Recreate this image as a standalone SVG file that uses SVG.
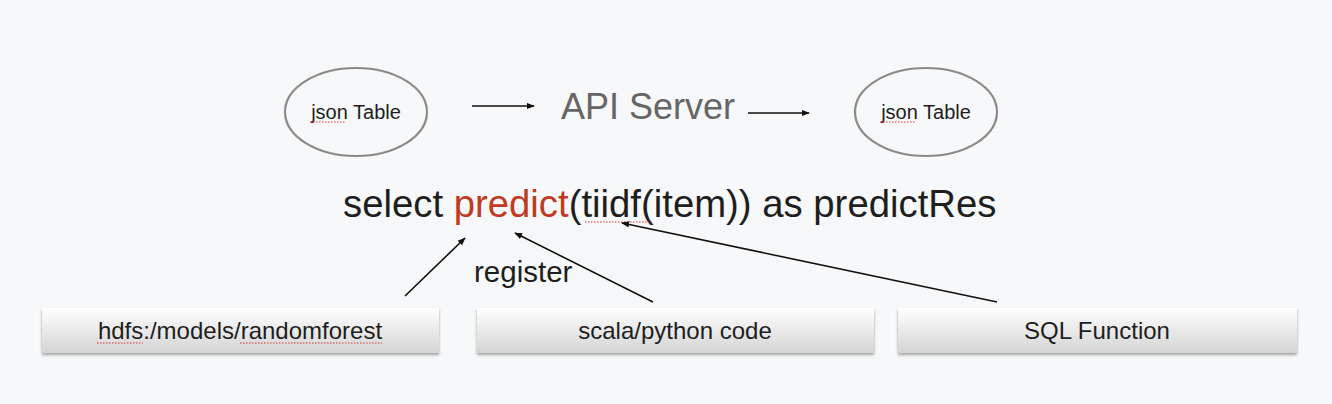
<svg xmlns="http://www.w3.org/2000/svg" width="1332" height="404" viewBox="0 0 1332 404">
<defs>
<linearGradient id="boxg" x1="0" y1="0" x2="0" y2="1">
<stop offset="0" stop-color="#ffffff"/>
<stop offset="1" stop-color="#d4d4d4"/>
</linearGradient>
<filter id="sh" x="-5%" y="-30%" width="110%" height="170%">
<feDropShadow dx="0" dy="2" stdDeviation="1.5" flood-color="#000" flood-opacity="0.35"/>
</filter>
<marker id="ah" viewBox="0 0 10 10" refX="9" refY="5" markerWidth="8" markerHeight="8" orient="auto" markerUnits="userSpaceOnUse">
<path d="M0,1 L10,5 L0,9 z" fill="#111"/>
</marker>
</defs>
<style>
.t{font-family:"Liberation Sans",Arial,sans-serif;fill:#1e1e1e}
.ell{fill:none;stroke:#8a8a8a;stroke-width:2.2}
.box{fill:url(#boxg);filter:url(#sh)}
.con{stroke:#111;stroke-width:1.6;fill:none;marker-end:url(#ah)}
.sq{stroke:#d33;stroke-width:1.2;stroke-dasharray:1.5 1.5;fill:none}
</style>
<rect width="1332" height="404" fill="#f7f8f9"/>
<g id="json-in">
<ellipse class="ell" cx="356" cy="112" rx="71" ry="44"/>
<text class="t" x="356" y="119" font-size="20" text-anchor="middle">json Table</text>
<path class="sq" d="M310,122 H346"/>
</g>
<g id="api-server">
<text x="648" y="119" font-size="36" text-anchor="middle" style="font-family:'Liberation Sans',Arial,sans-serif;fill:#666">API Server</text>
</g>
<g id="json-out">
<ellipse class="ell" cx="926" cy="112" rx="71" ry="44"/>
<text class="t" x="926" y="119" font-size="20" text-anchor="middle">json Table</text>
<path class="sq" d="M880,122 H916"/>
</g>
<g id="query">
<text class="t" x="343" y="217" font-size="38.3">select <tspan fill="#c23a22">predict</tspan>(tiidf(item)) as predictRes</text>
<path class="sq" d="M585,222 H652"/>
</g>
<g id="register-label">
<text class="t" x="474" y="282" font-size="29.5">register</text>
</g>
<g id="hdfs">
<rect class="box" x="42" y="308" width="397" height="45"/>
<text class="t" x="240" y="339" font-size="24" text-anchor="middle">hdfs:/models/randomforest</text>
<path class="sq" d="M97,343 H143 M240,343 H382"/>
</g>
<g id="code">
<rect class="box" x="477" y="308" width="397" height="45"/>
<text class="t" x="675" y="339" font-size="24" text-anchor="middle">scala/python code</text>
</g>
<g id="sqlfunc">
<rect class="box" x="898" y="308" width="399" height="45"/>
<text class="t" x="1097" y="339" font-size="24" text-anchor="middle">SQL Function</text>
</g>
<g id="connectors">
<line class="con" x1="472" y1="106" x2="534" y2="106"/>
<line class="con" x1="748" y1="113" x2="809" y2="113"/>
<line class="con" x1="405" y1="296" x2="465" y2="238"/>
<line class="con" x1="653" y1="302" x2="515" y2="233"/>
<line class="con" x1="997" y1="302" x2="622" y2="223"/>
</g>
</svg>
